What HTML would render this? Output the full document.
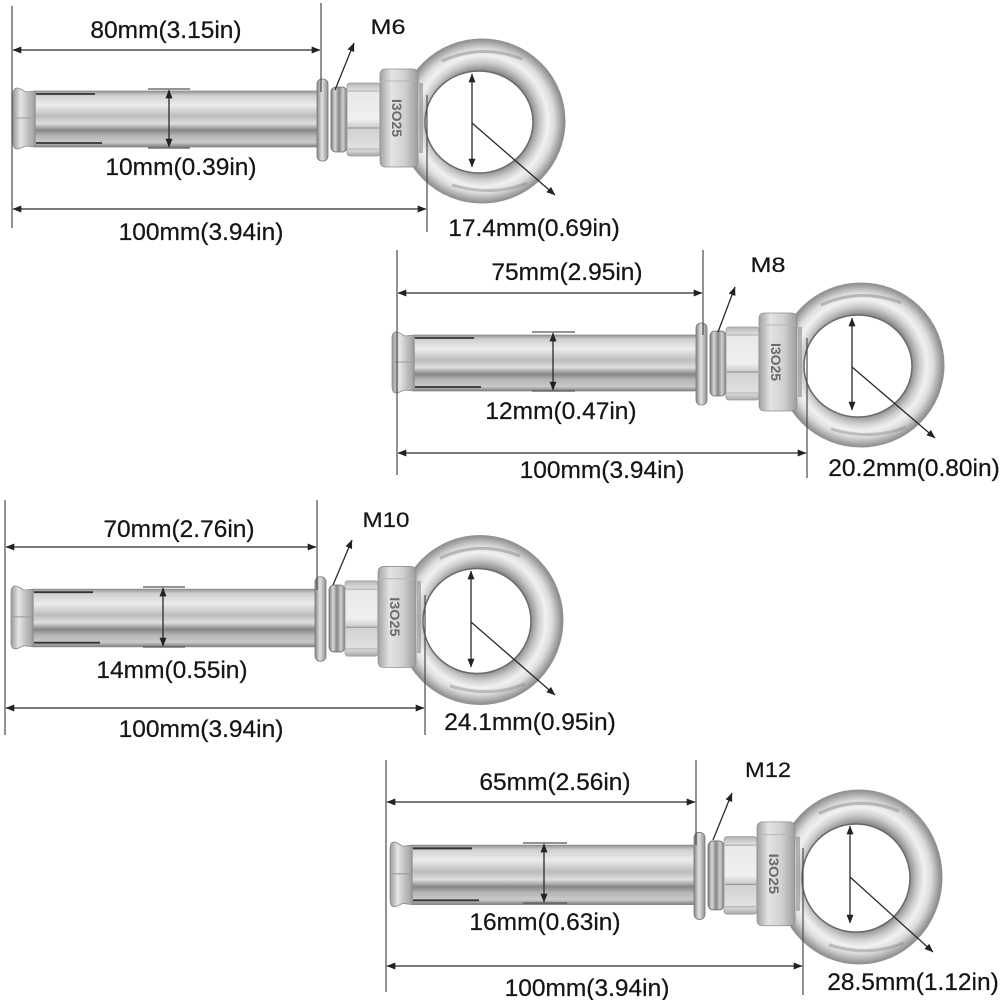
<!DOCTYPE html>
<html>
<head>
<meta charset="utf-8">
<style>
  html,body{margin:0;padding:0;background:#fff;}
  svg{display:block;}
  .ext{stroke:#4a4a4a;stroke-width:1.2;fill:none;}
  .dim{stroke:#2a2a2a;stroke-width:1.3;fill:none;}
  .tick{stroke:#555;stroke-width:1.2;fill:none;}
  .lbl{font-family:"Liberation Sans",Arial,sans-serif;font-size:24.5px;fill:#151515;text-anchor:middle;stroke:#151515;stroke-width:0.25;}
  .mlbl{font-family:"Liberation Sans",Arial,sans-serif;font-size:21px;fill:#151515;text-anchor:middle;stroke:#151515;stroke-width:0.2;}
</style>
</head>
<body>
<svg width="1000" height="1000" viewBox="0 0 1000 1000" xmlns="http://www.w3.org/2000/svg">
<defs>
  <marker id="ar" viewBox="0 0 10 8" refX="9.5" refY="4" markerWidth="9" markerHeight="7" markerUnits="userSpaceOnUse" orient="auto-start-reverse">
    <path d="M0,0 L10,4 L0,8 Z" fill="#222"/>
  </marker>
  <linearGradient id="gSleeve" x1="0" y1="0" x2="0" y2="1">
    <stop offset="0" stop-color="#949494"/>
    <stop offset="0.08" stop-color="#d0d0d0"/>
    <stop offset="0.25" stop-color="#ececec"/>
    <stop offset="0.45" stop-color="#bcbcbc"/>
    <stop offset="0.58" stop-color="#dedede"/>
    <stop offset="0.70" stop-color="#868686"/>
    <stop offset="0.80" stop-color="#b6b6b6"/>
    <stop offset="0.92" stop-color="#cacaca"/>
    <stop offset="1" stop-color="#7e7e7e"/>
  </linearGradient>
  <linearGradient id="gCap" x1="0" y1="0" x2="1" y2="0">
    <stop offset="0" stop-color="#9a9a9a"/>
    <stop offset="0.35" stop-color="#e6e6e6"/>
    <stop offset="0.7" stop-color="#bdbdbd"/>
    <stop offset="1" stop-color="#a0a0a0"/>
  </linearGradient>
  <linearGradient id="gWasher" x1="0" y1="0" x2="1" y2="0">
    <stop offset="0" stop-color="#858585"/>
    <stop offset="0.45" stop-color="#e2e2e2"/>
    <stop offset="1" stop-color="#8e8e8e"/>
  </linearGradient>
  <linearGradient id="gSpring" x1="0" y1="0" x2="1" y2="0">
    <stop offset="0" stop-color="#7a7a7a"/>
    <stop offset="0.25" stop-color="#d8d8d8"/>
    <stop offset="0.5" stop-color="#858585"/>
    <stop offset="0.75" stop-color="#d0d0d0"/>
    <stop offset="1" stop-color="#7a7a7a"/>
  </linearGradient>
  <linearGradient id="gNut" x1="0" y1="0" x2="0" y2="1">
    <stop offset="0" stop-color="#b5b5b5"/>
    <stop offset="0.12" stop-color="#e8e8e8"/>
    <stop offset="0.5" stop-color="#f0f0f0"/>
    <stop offset="0.6" stop-color="#cfcfcf"/>
    <stop offset="0.9" stop-color="#e2e2e2"/>
    <stop offset="1" stop-color="#a8a8a8"/>
  </linearGradient>
  <linearGradient id="gCollar" x1="0" y1="0" x2="1" y2="0">
    <stop offset="0" stop-color="#a2a2a2"/>
    <stop offset="0.3" stop-color="#e4e4e4"/>
    <stop offset="0.65" stop-color="#d0d0d0"/>
    <stop offset="1" stop-color="#9c9c9c"/>
  </linearGradient>
  <radialGradient id="gRing" gradientUnits="userSpaceOnUse" cx="0" cy="0" r="83">
    <stop offset="0.58" stop-color="#737373"/>
    <stop offset="0.64" stop-color="#a0a0a0"/>
    <stop offset="0.71" stop-color="#cecece"/>
    <stop offset="0.79" stop-color="#f1f1f1"/>
    <stop offset="0.87" stop-color="#dcdcdc"/>
    <stop offset="0.94" stop-color="#adadad"/>
    <stop offset="1" stop-color="#858585"/>
  </radialGradient>

  <g id="bolt">
    <path d="M -83,0 A 83 82 0 1 0 83,0 A 83 82 0 1 0 -83,0 Z M -57,1 A 54 51 0 1 0 51,1 A 54 51 0 1 0 -57,1 Z"
          fill="url(#gRing)" fill-rule="evenodd" stroke="#939393" stroke-width="1"/>
    <ellipse cx="-3" cy="1" rx="54" ry="51" fill="none" stroke="#6a6a6a" stroke-width="1.5"/>
    <path d="M -40,-60 Q 0,-78 40,-62" fill="none" stroke="#8a8a8a" stroke-width="3" opacity="0.5"/>
    <path d="M -30,64 Q 10,76 45,62" fill="none" stroke="#8a8a8a" stroke-width="3" opacity="0.45"/>
    <rect x="-448" y="-30" width="286" height="56" rx="2" fill="url(#gSleeve)" stroke="#8a8a8a" stroke-width="0.8"/>
    <path d="M -447,-30 L -456,-29 C -460,-31 -462,-33 -465,-33 Q -469,-33 -469,-26 L -469,21 Q -469,28 -465,28 C -462,28 -460,26 -456,25 L -447,26 Z"
          fill="url(#gCap)" stroke="#8a8a8a" stroke-width="0.8"/>
    <line x1="-447" y1="-30" x2="-447" y2="26" stroke="#8c8c8c" stroke-width="1.2"/>
    <line x1="-467" y1="-3" x2="-447" y2="-3" stroke="#9a9a9a" stroke-width="1"/>
    <line x1="-446" y1="-27" x2="-387" y2="-27" stroke="#333" stroke-width="1.8"/>
    <line x1="-446" y1="22" x2="-380" y2="22" stroke="#333" stroke-width="1.8"/>
    <rect x="-165" y="-42" width="11" height="82" rx="5" fill="url(#gWasher)" stroke="#777" stroke-width="0.8"/>
    <rect x="-151" y="-34" width="16" height="65" rx="5" fill="url(#gSpring)" stroke="#6e6e6e" stroke-width="0.8"/>
    <rect x="-135" y="-38" width="33" height="73" rx="3" fill="url(#gNut)" stroke="#9a9a9a" stroke-width="0.8"/>
    <line x1="-134" y1="-30" x2="-103" y2="-30" stroke="#a8a8a8" stroke-width="1"/>
    <line x1="-134" y1="7" x2="-103" y2="7" stroke="#9a9a9a" stroke-width="1.2"/>
    <line x1="-134" y1="28" x2="-103" y2="28" stroke="#b0b0b0" stroke-width="1"/>
    <path d="M -102,-46 Q -102,-52 -96,-52 L -70,-52 Q -64,-52 -64,-46 L -64,40 Q -64,46 -70,46 L -96,46 Q -102,46 -102,40 Z"
          fill="url(#gCollar)" stroke="#8e8e8e" stroke-width="0.8"/>
    <line x1="-101" y1="-40" x2="-65" y2="-40" stroke="#b8b8b8" stroke-width="1"/>
    <text x="0" y="0" transform="translate(-90,-3) rotate(90)" font-family="Liberation Sans, sans-serif" font-size="14" fill="#6a6a6a" text-anchor="middle" font-weight="bold">I3O25</text>
    <rect x="-63" y="-38" width="4" height="70" fill="#8a8a8a" opacity="0.6"/>
  </g>
</defs>

<use href="#bolt" transform="translate(482,121)"/>
<use href="#bolt" transform="translate(861,365)"/>
<use href="#bolt" transform="translate(480,620) scale(1,1.03)"/>
<use href="#bolt" transform="translate(859,877) scale(1,1.06)"/>

<!-- Bolt 1 -->
<line class="ext" x1="12" y1="6" x2="12" y2="228"/>
<line class="ext" x1="321" y1="3" x2="321" y2="92"/>
<line class="ext" x1="427" y1="95" x2="427" y2="232"/>
<line class="dim" x1="13" y1="50" x2="320" y2="50" marker-start="url(#ar)" marker-end="url(#ar)"/>
<line class="dim" x1="13" y1="209" x2="426" y2="209" marker-start="url(#ar)" marker-end="url(#ar)"/>
<line class="tick" x1="148" y1="89" x2="190" y2="89"/>
<line class="tick" x1="148" y1="148" x2="190" y2="148"/>
<line class="dim" x1="169" y1="90" x2="169" y2="147" marker-start="url(#ar)" marker-end="url(#ar)"/>
<line class="dim" x1="472" y1="74" x2="472" y2="167" marker-start="url(#ar)" marker-end="url(#ar)"/>
<line class="dim" x1="472" y1="123" x2="555" y2="195" marker-end="url(#ar)"/>
<line class="dim" x1="335" y1="90" x2="354" y2="43" marker-end="url(#ar)"/>
<text class="lbl" x="166" y="38">80mm(3.15in)</text>
<text class="mlbl" x="388" y="34" textLength="35" lengthAdjust="spacingAndGlyphs">M6</text>
<text class="lbl" x="181" y="175">10mm(0.39in)</text>
<text class="lbl" x="201" y="240">100mm(3.94in)</text>
<text class="lbl" x="534" y="236">17.4mm(0.69in)</text>

<!-- Bolt 2 -->
<line class="ext" x1="397" y1="250" x2="397" y2="475"/>
<line class="ext" x1="703" y1="250" x2="703" y2="335"/>
<line class="ext" x1="807" y1="338" x2="807" y2="478"/>
<line class="dim" x1="398" y1="293" x2="702" y2="293" marker-start="url(#ar)" marker-end="url(#ar)"/>
<line class="dim" x1="398" y1="453" x2="806" y2="453" marker-start="url(#ar)" marker-end="url(#ar)"/>
<line class="tick" x1="532" y1="332" x2="575" y2="332"/>
<line class="tick" x1="532" y1="391" x2="575" y2="391"/>
<line class="dim" x1="553" y1="333" x2="553" y2="390" marker-start="url(#ar)" marker-end="url(#ar)"/>
<line class="dim" x1="852" y1="318" x2="852" y2="410" marker-start="url(#ar)" marker-end="url(#ar)"/>
<line class="dim" x1="852" y1="367" x2="935" y2="438" marker-end="url(#ar)"/>
<line class="dim" x1="718" y1="332" x2="735" y2="287" marker-end="url(#ar)"/>
<text class="lbl" x="567" y="280">75mm(2.95in)</text>
<text class="mlbl" x="768" y="272" textLength="35" lengthAdjust="spacingAndGlyphs">M8</text>
<text class="lbl" x="561" y="419">12mm(0.47in)</text>
<text class="lbl" x="602" y="478">100mm(3.94in)</text>
<text class="lbl" x="914" y="476">20.2mm(0.80in)</text>

<!-- Bolt 3 -->
<line class="ext" x1="5" y1="500" x2="5" y2="735"/>
<line class="ext" x1="317" y1="500" x2="317" y2="590"/>
<line class="ext" x1="425" y1="595" x2="425" y2="735"/>
<line class="dim" x1="6" y1="547" x2="316" y2="547" marker-start="url(#ar)" marker-end="url(#ar)"/>
<line class="dim" x1="6" y1="708" x2="424" y2="708" marker-start="url(#ar)" marker-end="url(#ar)"/>
<line class="tick" x1="143" y1="587" x2="185" y2="587"/>
<line class="tick" x1="143" y1="647" x2="185" y2="647"/>
<line class="dim" x1="163" y1="588" x2="163" y2="646" marker-start="url(#ar)" marker-end="url(#ar)"/>
<line class="dim" x1="471" y1="571" x2="471" y2="667" marker-start="url(#ar)" marker-end="url(#ar)"/>
<line class="dim" x1="471" y1="622" x2="555" y2="695" marker-end="url(#ar)"/>
<line class="dim" x1="333" y1="585" x2="352" y2="540" marker-end="url(#ar)"/>
<text class="lbl" x="179" y="537">70mm(2.76in)</text>
<text class="mlbl" x="386" y="527" textLength="47" lengthAdjust="spacingAndGlyphs">M10</text>
<text class="lbl" x="172" y="678">14mm(0.55in)</text>
<text class="lbl" x="201" y="737">100mm(3.94in)</text>
<text class="lbl" x="530" y="730">24.1mm(0.95in)</text>

<!-- Bolt 4 -->
<line class="ext" x1="386" y1="760" x2="386" y2="992"/>
<line class="ext" x1="696" y1="760" x2="696" y2="845"/>
<line class="ext" x1="803" y1="848" x2="803" y2="995"/>
<line class="dim" x1="387" y1="802" x2="695" y2="802" marker-start="url(#ar)" marker-end="url(#ar)"/>
<line class="dim" x1="387" y1="966" x2="802" y2="966" marker-start="url(#ar)" marker-end="url(#ar)"/>
<line class="tick" x1="523" y1="843" x2="567" y2="843"/>
<line class="tick" x1="523" y1="903" x2="567" y2="903"/>
<line class="dim" x1="544" y1="844" x2="544" y2="902" marker-start="url(#ar)" marker-end="url(#ar)"/>
<line class="dim" x1="850" y1="826" x2="850" y2="923" marker-start="url(#ar)" marker-end="url(#ar)"/>
<line class="dim" x1="850" y1="877" x2="933" y2="952" marker-end="url(#ar)"/>
<line class="dim" x1="713" y1="840" x2="732" y2="793" marker-end="url(#ar)"/>
<text class="lbl" x="555" y="790">65mm(2.56in)</text>
<text class="mlbl" x="768" y="777" textLength="46" lengthAdjust="spacingAndGlyphs">M12</text>
<text class="lbl" x="545" y="930">16mm(0.63in)</text>
<text class="lbl" x="587" y="996">100mm(3.94in)</text>
<text class="lbl" x="913" y="990">28.5mm(1.12in)</text>
</svg>
</body>
</html>
